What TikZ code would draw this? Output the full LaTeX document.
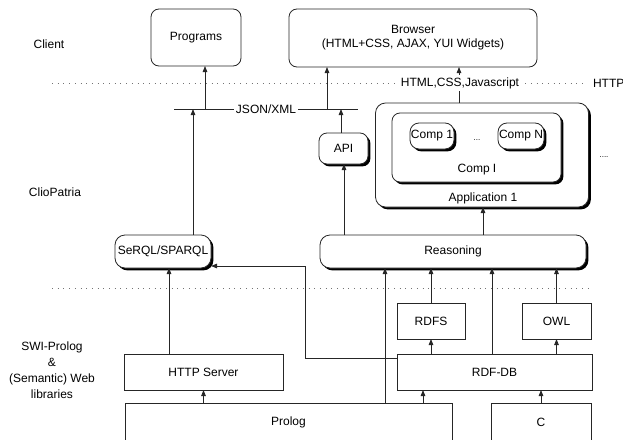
\documentclass[tikz,border=0pt]{standalone}
\usepackage{fontspec}
\setmainfont{Liberation Sans}
\usetikzlibrary{arrows.meta,shadows}
\begin{document}
\begin{tikzpicture}[x=1pt,y=-1pt,
  font=\fontsize{12}{14}\selectfont,
  every node/.style={inner sep=0pt, outer sep=0pt},
  sq/.style={draw=black!85, line width=0.8pt, fill=white},
  rbox/.style={draw=black!85, line width=0.8pt, fill=white, rounded corners=8pt},
  shad/.style={rbox, drop shadow={shadow xshift=2.4pt, shadow yshift=-2.4pt, opacity=1, fill=black}},
  arr/.style={draw=black!85, line width=0.8pt, -{Triangle[length=6pt,width=4.5pt]}},
  ln/.style={draw=black!85, line width=0.8pt},
  dotline/.style={draw=black!55, line width=0.7pt, dash pattern=on 0.7pt off 5pt},
  side/.style={align=center, font=\fontsize{12}{16}\selectfont},
  tinydots/.style={font=\fontsize{8}{9}\selectfont},
]
\useasboundingbox (0,0) rectangle (623,439);
\clip (0,0) rectangle (623,439);

% layer separators
\draw[dotline] (52,83) -- (583,83);
\draw[dotline] (52,288) -- (588,288);

% side labels
\node[side] (lclient) at (49,44) {Client};
\node[side] (lclio) at (55,192) {ClioPatria};
\node[side] (lswi) at (52,370) {SWI-Prolog\\\&\\(Semantic) Web\\libraries};
\node[anchor=west] (lhttp) at (593,83) {HTTP};

% client boxes
\node[rbox, minimum width=90pt, minimum height=57pt] (programs) at (196,37.5) {Programs};
\node[rbox, minimum width=248pt, minimum height=58pt, align=center] (browser) at (413,38) {Browser\\(HTML+CSS, AJAX, YUI Widgets)};

% ClioPatria boxes
\node[shad, minimum width=49pt, minimum height=31pt] (api) at (343.5,148.5) {API};
\node[shad, rounded corners=10pt, minimum width=213pt, minimum height=104pt] (app) at (482,155) {};
\node[shad, minimum width=169pt, minimum height=69pt] (compi) at (476.5,147.5) {};
\node[shad, rounded corners=9pt, minimum width=44pt, minimum height=26pt] (comp1) at (432,136) {Comp 1};
\node[shad, rounded corners=9pt, minimum width=46pt, minimum height=26pt] (compn) at (521,136) {Comp N};
\node[tinydots] (dots1) at (477,140) {...};
\node (compitxt) at (477,170) {Comp I};
\node (apptxt) at (483,198) {Application 1};
\node[tinydots] (dots2) at (604,157) {....};
\node[shad, rounded corners=10pt, minimum width=96pt, minimum height=33pt] (serql) at (163,251.5) {SeRQL/SPARQL};
\node[shad, rounded corners=10pt, minimum width=266pt, minimum height=33pt] (reason) at (453,251.5) {Reasoning};

% SWI-Prolog boxes
\node[sq, minimum width=68pt, minimum height=36pt] (rdfs) at (431,321) {RDFS};
\node[sq, minimum width=69pt, minimum height=36pt] (owl) at (556.5,321) {OWL};
\node[sq, minimum width=159pt, minimum height=36pt] (http) at (203.5,372) {HTTP Server};
\node[sq, minimum width=195pt, minimum height=36pt] (rdfdb) at (494.5,372) {RDF-DB};
\node[sq, minimum width=327pt, minimum height=38pt] (prolog) at (288.5,422) {Prolog};
\node[sq, minimum width=100pt, minimum height=38pt] (cbox) at (541,422) {C};

% helper coordinates
\coordinate (jl) at (174,109);
\coordinate (jr) at (358,109);
\coordinate (x169) at (169,0);
\coordinate (x193) at (193,0);
\coordinate (x205) at (205,0);
\coordinate (x327) at (327,0);
\coordinate (x341) at (341,0);
\coordinate (x344) at (344,0);
\coordinate (x459) at (459,0);
\coordinate (x483) at (483,0);
\coordinate (x385) at (385,0);
\coordinate (x423) at (423,0);
\coordinate (x492) at (492,0);
\coordinate (c1) at (305,358);
\coordinate (c2) at (305,266);

% JSON/XML bus
\draw[ln] (jl) -- (jr);
\node[fill=white, inner xsep=1.5pt, inner ysep=1pt] (json) at (266,109) {JSON/XML};
\draw[arr] (x205 |- jl) -- (x205 |- programs.south);
\draw[arr] (x327 |- jl) -- (x327 |- browser.south);
\draw[arr] (serql.north -| x193) -- (x193 |- jl);
\draw[arr] (api.north -| x341) -- (x341 |- jl);

% ClioPatria connectors
\draw[arr] (app.north -| x459) -- (x459 |- browser.south);
\node[fill=white, inner xsep=1.5pt, inner ysep=2pt] (htmllbl) at (460,83) {HTML,CSS,Javascript};
\draw[arr] (reason.north -| x344) -- (x344 |- api.south);
\draw[arr] (reason.north -| x483) -- (x483 |- app.south);

% into reasoning
\draw[arr] (prolog.north -| x385) -- (x385 |- reason.south);
\draw[arr] (rdfs.north) -- (rdfs.north |- reason.south);
\draw[arr] (rdfdb.north -| x492) -- (x492 |- reason.south);
\draw[arr] (owl.north) -- (owl.north |- reason.south);

% SWI-Prolog connectors
\draw[arr] (rdfdb.north -| rdfs.south) -- (rdfs.south);
\draw[arr] (rdfdb.north -| owl.south) -- (owl.south);
\draw[arr] (prolog.north -| http.south) -- (http.south);
\draw[arr] (prolog.north -| x423) -- (x423 |- rdfdb.south);
\draw[arr] (cbox.north) -- (cbox.north |- rdfdb.south);
\draw[arr] (http.north -| x169) -- (x169 |- serql.south);
\draw[arr] (c1 -| rdfdb.west) -- (c1) -- (c2) -- (c2 -| serql.east);
\end{tikzpicture}
\end{document}
